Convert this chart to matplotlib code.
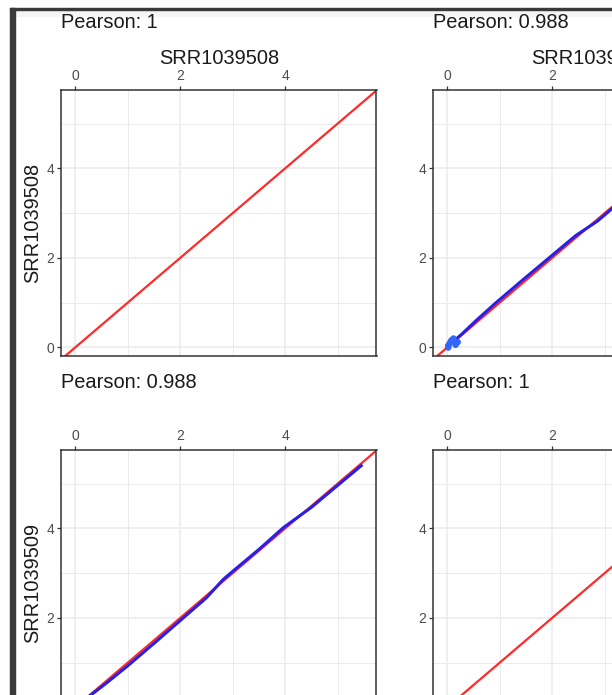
import matplotlib
matplotlib.use("Agg")
import matplotlib.pyplot as plt
from matplotlib.patches import Rectangle
from matplotlib.ticker import MultipleLocator

plt.rcParams['font.family'] = ['Liberation Sans', 'DejaVu Sans']

# Samples and pairwise correlations
samples = ["SRR1039508", "SRR1039509"]
pearson = [["1", "0.988"], ["0.988", "1"]]

# Sorted expression values (log scale), SRR1039508 vs SRR1039509
curve_508 = [0.10, 0.29, 0.60, 0.98, 1.50, 2.00, 2.50, 2.82, 2.98, 3.50, 3.97, 4.50, 5.00, 5.45]
curve_509 = [0.08, 0.27, 0.55, 0.91, 1.43, 1.94, 2.45, 2.86, 3.02, 3.53, 4.02, 4.47, 4.96, 5.40]

# dense cluster of low-count genes
low_508 = [0.00, 0.04, 0.10, 0.16, 0.20, 0.06, 0.12]
low_509 = [0.02, 0.02, 0.05, 0.08, 0.12, 0.16, 0.20]

W, H = 612, 695
fig = plt.figure(figsize=(W / 100, H / 100), dpi=100)


def px_axes(x0, y0, w, h):
    return fig.add_axes([x0 / W, 1 - (y0 + h) / H, w / W, h / H])


def fig_text(x, y, s, **kw):
    fig.text(x / W, 1 - y / H, s, **kw)


# page frame around the figure
fig.add_artist(Rectangle((10 / W, 0), 5 / W, 1 - 8 / H, transform=fig.transFigure,
                         color="#3a3a3a", zorder=10))
fig.add_artist(Rectangle((10 / W, 1 - 10 / H), 1, 2 / H, transform=fig.transFigure,
                         color="#3a3a3a", zorder=10))
fig.add_artist(Rectangle((15 / W, 1 - 16 / H), 1, 6 / H, transform=fig.transFigure,
                         color="#f5f5f5", zorder=0))

left0, top0 = 61, 90
dx, dy = 372, 360
pw, ph = 315.5, 266

for r in range(2):
    for c in range(2):
        x0 = left0 + c * dx
        y0 = top0 + r * dy
        ax = px_axes(x0, y0, pw, ph)
        ax.set_xlim(-0.27, 5.74)
        ax.set_ylim(-0.19, 5.75)
        ax.xaxis.tick_top()
        ax.xaxis.set_major_locator(MultipleLocator(2))
        ax.xaxis.set_minor_locator(MultipleLocator(1))
        ax.yaxis.set_major_locator(MultipleLocator(2))
        ax.yaxis.set_minor_locator(MultipleLocator(1))
        ax.grid(which="major", color="#ebebeb", lw=1.1)
        ax.grid(which="minor", color="#ebebeb", lw=0.7)
        ax.set_axisbelow(True)
        ax.tick_params(which="major", length=3, width=0.9, color="#333333",
                       labelsize=10, labelcolor="#4d4d4d", pad=2)
        ax.tick_params(which="minor", length=0)
        for sp in ax.spines.values():
            sp.set_color("#333333")
            sp.set_linewidth(1.1)

        ax.axline((0, 0), slope=1, color="#ff2a2a", lw=1.6, zorder=2)
        if r != c:
            if c == 0:
                xs, ys = curve_508, curve_509
                lx, ly = low_508, low_509
            else:
                xs, ys = curve_509, curve_508
                lx, ly = low_509, low_508
            ax.plot(xs, ys, color="#2a1fe6", lw=2.2, zorder=3)
            ax.scatter(lx, ly, s=22, color="#3366ff", edgecolors="none", zorder=3)

        fig_text(x0, y0 - 67, "Pearson: " + pearson[r][c], fontsize=14.4,
                 color="#1a1a1a", ha="left", va="center")
        if r == 0:
            fig_text(x0 + pw / 2, y0 - 32, samples[c], fontsize=14.4,
                     color="#1a1a1a", ha="center", va="center")
        if c == 0:
            fig_text(33, y0 + ph / 2, samples[r], fontsize=14.4, color="#1a1a1a",
                     rotation=90, ha="center", va="center")

fig.savefig("out.png", dpi=100)
